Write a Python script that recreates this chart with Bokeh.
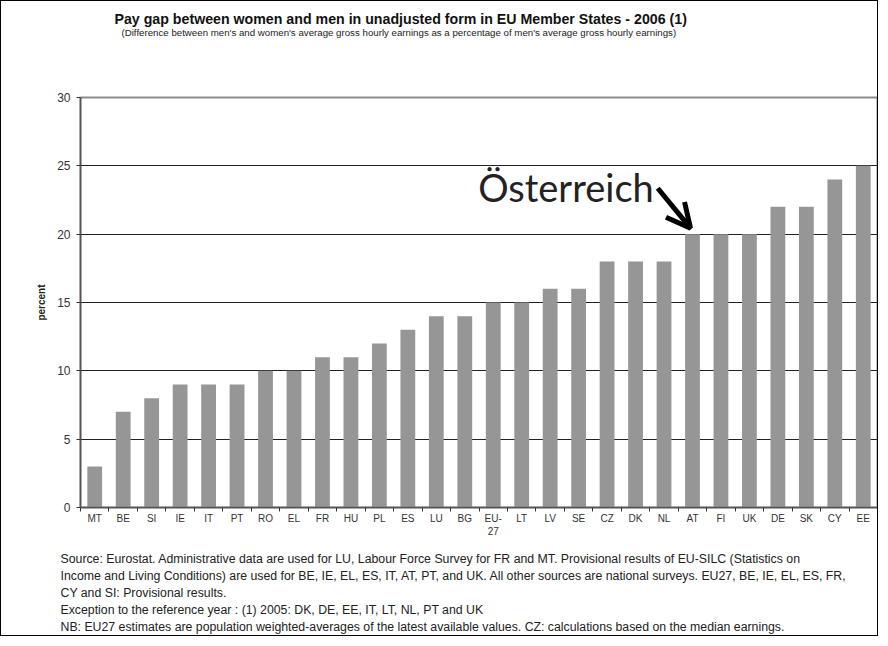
from bokeh.plotting import figure
from bokeh.models import (ColumnDataSource, FixedTicker, Title, Arrow, OpenHead, Range1d)
from bokeh.core.properties import value
from bokeh.embed import file_html
from bokeh.resources import INLINE

# ---- data ----
categories = ["MT", "BE", "SI", "IE", "IT", "PT", "RO", "EL", "FR", "HU", "PL", "ES", "LU", "BG",
              "EU-27", "LT", "LV", "SE", "CZ", "DK", "NL", "AT", "FI", "UK", "DE", "SK", "CY", "EE"]
pay_gap = [3, 7, 8, 9, 9, 9, 10, 10, 11, 11, 12, 13, 14, 14,
           15, 15, 16, 16, 18, 18, 18, 20, 20, 20, 22, 22, 24, 25]
tick_labels = ["MT", "BE", "SI", "IE", "IT", "PT", "RO", "EL", "FR", "HU", "PL", "ES", "LU", "BG",
               "EU-\n27", "LT", "LV", "SE", "CZ", "DK", "NL", "AT", "FI", "UK", "DE", "SK", "CY", "EE"]
y_ticks = [0, 5, 10, 15, 20, 25, 30]

title_text = "Pay gap between women and men in unadjusted form in EU Member States - 2006 (1)"
subtitle_text = ("(Difference between men's and women's average gross hourly earnings as a percentage "
                 "of men's average gross hourly earnings)")
footnotes = [
    "Source: Eurostat. Administrative data are used for LU, Labour Force Survey for FR and MT. Provisional results of EU-SILC (Statistics on",
    "Income and Living Conditions) are used for BE, IE, EL, ES, IT, AT, PT, and UK. All other sources are national surveys. EU27, BE, IE, EL, ES, FR,",
    "CY and SI: Provisional results.",
    "Exception to the reference year : (1) 2005: DK, DE, EE, IT, LT, NL, PT and UK",
    "NB: EU27 estimates are population weighted-averages of the latest available values. CZ: calculations based on the median earnings.",
]
highlight = "AT"
highlight_text = "Österreich"

n = len(categories)
xs = [i + 0.5 for i in range(n)]
src = ColumnDataSource(dict(x=xs, top=pay_gap, cat=categories))

p = figure(width=878, height=636, output_backend="svg", toolbar_location=None,
           x_range=Range1d(0, n), y_range=Range1d(0, 30),
           min_border_left=79, min_border_right=2, min_border_top=0, min_border_bottom=0)
p.styles = {"border": "1px solid #000"}
p.background_fill_color = "white"
p.border_fill_color = "white"
p.outline_line_color = "#8c8c8c"
p.outline_line_width = 2

p.vbar(x="x", top="top", width=0.52, source=src, fill_color="#969696", line_color=None)

# x axis
xa = p.xaxis[0]
xa.ticker = FixedTicker(ticks=xs, minor_ticks=list(range(n + 1)))
xa.major_label_overrides = {x: lab for x, lab in zip(xs, tick_labels)}
xa.major_tick_out = 0
xa.major_tick_in = 0
xa.minor_tick_out = 4
xa.minor_tick_in = 0
xa.minor_tick_line_color = "#333333"
xa.axis_line_color = "#555555"
xa.axis_line_width = 1.5
xa.major_label_text_font = "Liberation Sans"
xa.major_label_text_font_size = "10px"
xa.major_label_text_color = "#333333"
xa.major_label_standoff = 1

# y axis
ya = p.yaxis[0]
ya.ticker = FixedTicker(ticks=y_ticks)
ya.minor_tick_line_color = None
ya.major_tick_out = 4
ya.major_tick_in = 0
ya.major_tick_line_color = "#333333"
ya.axis_line_color = "#555555"
ya.axis_line_width = 1.5
ya.major_label_text_font = "Liberation Sans"
ya.major_label_text_font_size = "12px"
ya.major_label_text_color = "#333333"
ya.major_label_standoff = 6
ya.axis_label = "percent"
ya.axis_label_text_font = "Liberation Sans"
ya.axis_label_text_font_size = "10px"
ya.axis_label_text_font_style = "bold"
ya.axis_label_text_color = "#222222"
ya.axis_label_standoff = 7

p.xgrid.grid_line_color = None
p.ygrid.grid_line_color = "#222222"
p.ygrid.grid_line_width = 1


def spacer(px):
    return Title(text=" ", text_font_size="1px", standoff=px)


# ---- above: listed from the frame outward ----
p.add_layout(spacer(58), "above")
p.add_layout(Title(text=subtitle_text, align="left", offset=41, standoff=-3,
                   text_font="Liberation Sans", text_font_size="9.7px",
                   text_font_style="normal", text_color="#222222"), "above")
p.add_layout(Title(text=title_text, align="left", offset=34, standoff=0,
                   text_font="Liberation Sans", text_font_size="14.2px",
                   text_font_style="bold", text_color="#111111"), "above")
p.add_layout(spacer(4), "above")

# ---- below: axis first, then footnotes ----
p.add_layout(spacer(7), "below")
for t in footnotes:
    p.add_layout(Title(text=t, align="left", offset=-20, standoff=1,
                       text_font="Liberation Sans", text_font_size="12.3px",
                       text_font_style="normal", text_color="#222222"), "below")
p.add_layout(spacer(0), "below")

# annotation for Austria
hi = categories.index(highlight)
tip_x, tip_y = hi + 0.43, pay_gap[hi] + 0.44
tail_x, tail_y = hi - 0.72, pay_gap[hi] + 3.36
p.add_layout(Arrow(end=OpenHead(size=24, line_width=5, line_color="black"),
                   x_start=tail_x, y_start=tail_y, x_end=tip_x, y_end=tip_y,
                   line_width=5, line_color="black"))
p.text(x=[tail_x - 0.14], y=[pay_gap[hi] + 3.45], text=[highlight_text],
       text_align="right", text_baseline="middle", text_font=value("Lato"),
       text_font_size="38px", text_color="#222222")

open("out.html", "w").write(file_html(p, INLINE))
